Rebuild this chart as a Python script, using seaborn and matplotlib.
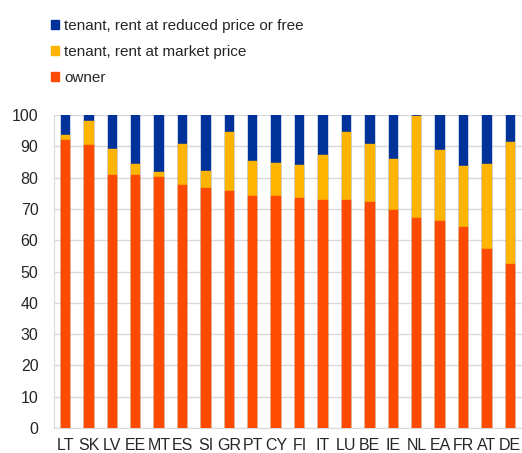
import numpy as np
import pandas as pd
import matplotlib
matplotlib.use("Agg")
import matplotlib.pyplot as plt
import seaborn as sns
from matplotlib.patches import Patch

# données (%)
countries = ["LT", "SK", "LV", "EE", "MT", "ES", "SI", "GR", "PT", "CY",
             "FI", "IT", "LU", "BE", "IE", "NL", "EA", "FR", "AT", "DE"]
owner = [91.9, 90.4, 81.0, 81.0, 80.1, 77.5, 76.6, 75.7, 74.0, 74.0,
         73.5, 72.9, 72.8, 72.1, 69.7, 67.0, 66.3, 64.1, 57.1, 52.5]
market = [1.6, 7.6, 8.3, 3.4, 1.8, 13.3, 5.6, 18.9, 11.4, 10.8,
          10.7, 14.3, 21.9, 18.6, 16.4, 32.6, 22.6, 19.5, 27.2, 38.9]
reduced = [6.5, 2.0, 10.7, 15.6, 18.1, 9.2, 17.8, 5.4, 14.6, 15.2,
           15.8, 12.8, 5.3, 9.3, 13.9, 0.4, 11.1, 16.4, 15.7, 8.6]

labels = ["tenant, rent at reduced price or free",
          "tenant, rent at market price",
          "owner"]
colors = ["#003299", "#FFB400", "#FF4B00"]

df = pd.DataFrame({"country": countries, "owner": owner,
                   "market": market, "reduced": reduced})
df["lvl_market"] = df["owner"] + df["market"]
df["lvl_total"] = df["lvl_market"] + df["reduced"]

sns.set_style("white")
plt.rcParams["font.family"] = ["Liberation Sans", "DejaVu Sans"]

fig = plt.figure(figsize=(5.22, 4.53), dpi=100)
ax = fig.add_axes([0.103, 0.055, 0.897, 0.691])

# barres empilées : on dessine les cumuls du plus haut au plus bas
for col, c in zip(["lvl_total", "lvl_market", "owner"], colors):
    sns.barplot(data=df, x="country", y=col, color=c, width=0.4,
                saturation=1, ax=ax, zorder=3, edgecolor=c, linewidth=0.3)

ax.set_ylim(0, 100)
ax.set_xlim(-0.5, len(countries) - 0.5)
ax.set_yticks(range(0, 101, 10))
ax.set_xlabel("")
ax.set_ylabel("")
ax.grid(axis="y", color="#d9d9d9", linewidth=1, zorder=0)
ax.tick_params(axis="y", length=4, color="#d9d9d9", labelsize=11.5, pad=7)
ax.tick_params(axis="x", length=0, labelsize=11.5, pad=7)
for s in ["top", "right"]:
    ax.spines[s].set_visible(False)
for s in ["left", "bottom"]:
    ax.spines[s].set_color("#d9d9d9")

handles = [Patch(color=c) for c in colors]
fig.legend(handles, labels, loc="upper left", bbox_to_anchor=(0.086, 0.972),
           frameon=False, fontsize=11, handlelength=0.55, handleheight=0.55,
           handletextpad=0.3, labelspacing=0.8, borderaxespad=0)

plt.savefig("out.png", dpi=100)
